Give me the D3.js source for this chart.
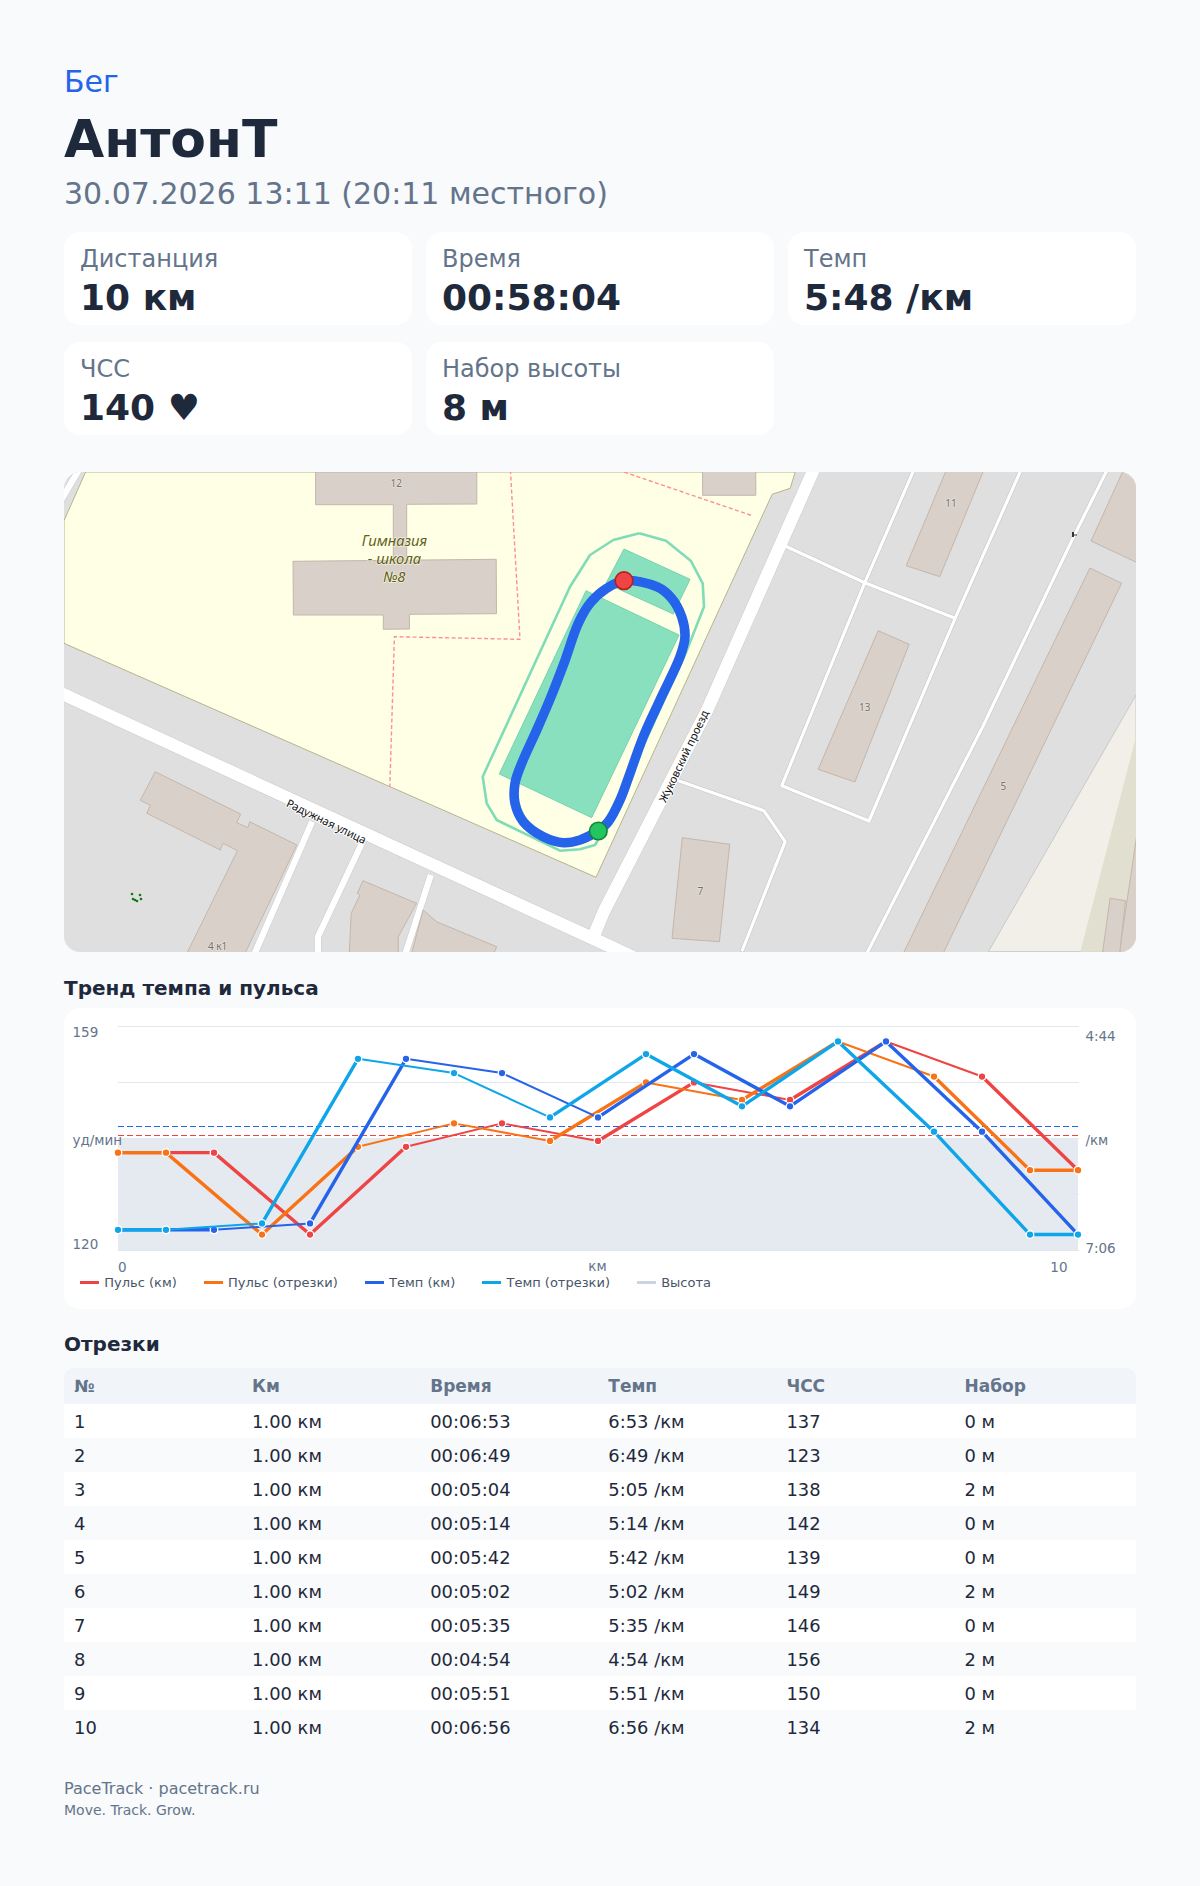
<!DOCTYPE html>
<html lang="ru">
<head>
<meta charset="utf-8">
<title>АнтонТ - Бег</title>
<script src="https://cdn.jsdelivr.net/npm/d3@7"></script>
<style>
  html, body { margin: 0; padding: 0; background: #f8fafc; }
  body { font-family: "DejaVu Sans", sans-serif; color: #1e293b; }
  #page { position: relative; width: 1200px; height: 1886px; overflow: hidden; }
  .abs { position: absolute; white-space: nowrap; line-height: 1; }
  .card { position: absolute; background: #fff; border-radius: 16px; width: 348px; height: 93px; }
  #map { position: absolute; left: 64px; top: 472px; border-radius: 16px; }
  #chart { position: absolute; left: 64px; top: 1008px; background: #fff; border-radius: 16px; }
  #legend { position: absolute; left: 80px; top: 1274.5px; display: flex; gap: 26.9px; font-size: 13px; color: #475569; line-height: 15px; }
  #legend .item { display: flex; align-items: center; }
  #legend .swatch { width: 19px; height: 3px; margin-right: 5.3px; }
  #segments { position: absolute; left: 64px; top: 1368px; width: 1072px; }
  .row { position: absolute; left: 0; width: 1072px; height: 34px; }
  .cell { position: absolute; font-size: 17.9px; white-space: nowrap; line-height: 1; }
  .head { font-size: 17px; font-weight: 700; color: #64748b; }
</style>
</head>
<body>
<div id="page"></div>
<script>
// ---- header + summary
const sport = "Бег", athlete = "АнтонТ", started = "30.07.2026 13:11 (20:11 местного)";
const statLabels = ["Дистанция", "Время", "Темп", "ЧСС", "Набор высоты"];
const statValues = ["10 км", "00:58:04", "5:48 /км", "140 ♥", "8 м"];

// ---- chart data
const kmX = [0, 1, 2, 3, 4, 5, 6, 7, 8, 9, 10];
const lapX = [0, 0.5, 1.5, 2.5, 3.5, 4.5, 5.5, 6.5, 7.5, 8.5, 9.5, 10];
const pulseKm = [137, 137, 123, 138, 142, 139, 149, 146, 156, 150, 134];
const pulseLap = [137, 137, 123, 138, 142, 139, 149, 146, 156, 150, 134, 134];
const paceKm = [413, 413, 409, 305, 314, 342, 302, 335, 294, 351, 416];
const paceLap = [413, 413, 409, 305, 314, 342, 302, 335, 294, 351, 416, 416];
const elevation = [8, 8, 8, 8, 8, 8, 8, 8, 8, 8, 8];
const avgPulse = 140, avgPace = 348;
const legendNames = ["Пульс (км)", "Пульс (отрезки)", "Темп (км)", "Темп (отрезки)", "Высота"];
const legendColors = ["#ef4444", "#f97316", "#2563eb", "#0ea5e9", "#cbd5e1"];

// ---- table
const tableHead = ["№", "Км", "Время", "Темп", "ЧСС", "Набор"];
const lapNo = ["1", "2", "3", "4", "5", "6", "7", "8", "9", "10"];
const lapDist = ["1.00 км", "1.00 км", "1.00 км", "1.00 км", "1.00 км", "1.00 км", "1.00 км", "1.00 км", "1.00 км", "1.00 км"];
const lapTime = ["00:06:53", "00:06:49", "00:05:04", "00:05:14", "00:05:42", "00:05:02", "00:05:35", "00:04:54", "00:05:51", "00:06:56"];
const lapPace = ["6:53 /км", "6:49 /км", "5:05 /км", "5:14 /км", "5:42 /км", "5:02 /км", "5:35 /км", "4:54 /км", "5:51 /км", "6:56 /км"];
const lapHr = ["137", "123", "138", "142", "139", "149", "146", "156", "150", "134"];
const lapGain = ["0 м", "0 м", "2 м", "0 м", "0 м", "2 м", "0 м", "2 м", "0 м", "2 м"];

// ---- map shapes
const schoolArea = [[64, 643.3], [596, 877.3], [772.2, 494.3], [790.2, 488.3], [795.2, 472], [85.6, 472], [64, 520.7]];
const sand = [[1136, 695], [988.4, 951.7], [1136, 951.7]];
const scrub = [[1136, 736.7], [1080.3, 951.7], [1136, 951.7]];
const buildings = [
  [[315.6, 472], [476.8, 472], [476.8, 504], [406.7, 504.3], [406.7, 562], [393.3, 562], [393.3, 504.7], [315.6, 504.7]],
  [[293, 561.3], [496.2, 559.3], [496.5, 613.7], [409.4, 614.3], [409.4, 629], [383.3, 629.3], [383.3, 615], [293.4, 615]],
  [[702.6, 470], [755.8, 470], [755.8, 495.3], [702.6, 495.3]],
  [[155.2, 771.7], [240.6, 814], [236.8, 822.7], [247.9, 827.7], [249.8, 821.7], [296.8, 845], [245.2, 953], [187, 953], [237.5, 850.7], [223, 843.3], [220.3, 850], [146.8, 813.3], [150.3, 805.3], [140.3, 800.3]],
  [[363, 880.7], [416.6, 903.3], [398.3, 936.7], [398.3, 953], [349.3, 953], [351.2, 913.3], [360, 895], [357.3, 893.3]],
  [[423.1, 910], [436.5, 921.7], [496.6, 946.7], [494, 953], [411.7, 953]],
  [[946.3, 470], [983.8, 470], [939.8, 576.7], [906.2, 565.7]],
  [[878.2, 630.7], [909.2, 644.3], [854.9, 782], [818.1, 769.3]],
  [[1089.9, 568], [1121.6, 583.3], [943.3, 953], [903.5, 953]],
  [[682.3, 837.7], [729.7, 844.3], [719.4, 941.7], [672, 938.3]],
  [[1123.5, 470], [1091, 541], [1138, 563], [1138, 470]],
  [[1138, 826.7], [1119.3, 953], [1138, 953]],
  [[1110.1, 898.3], [1125.5, 900.7], [1119.7, 953], [1102.5, 953]]
];
const bigRoads = [
  [[60, 692.8], [604.9, 944], [650, 965]],
  [[814, 469], [707.2, 710], [659.3, 803.3], [603.8, 911.7], [592, 940]]
];
const sideRoads = [
  [[312.1, 821.7], [254, 955]],
  [[361.9, 843.3], [317.9, 936.7], [317.9, 955]],
  [[430.8, 875], [405, 955]],
  [[60, 502], [80, 468]]
];
const lanes = [
  [[913.8, 470], [864.8, 582.7], [781.8, 785.7], [869, 821], [955.1, 618.3], [1021, 470]],
  [[786.8, 546.7], [864.8, 582.7], [955.1, 618.3]],
  [[678.5, 780.7], [763.8, 810.7], [785.2, 841.7], [742.4, 950]],
  [[1107.1, 470], [1074.5, 535], [982.7, 726.7], [866, 955]]
];
const pitches = [
  [[586, 590.7], [679, 635], [591.7, 817.7], [499.3, 774]],
  [[624, 549], [690, 579.3], [673.3, 614], [606, 583.3]]
];
const stadiumEdge = [[639.3, 533.3], [666, 540.7], [690.7, 560.7], [702.7, 583.3], [704, 606.7], [685.7, 653.3], [606.7, 825], [595, 845], [580, 849.3], [560, 850.7], [496.7, 820], [486.7, 803.3], [482.7, 776.7], [570, 586.7], [590, 555], [613.3, 540], [639.3, 533.3]];
const fences = [
  [[510.4, 470], [520, 639.3], [394.4, 636.7], [389.8, 786.7]],
  [[618, 470], [753.1, 516]]
];
const route = [[598.3, 831], [580, 840], [563.3, 842.7], [543.3, 836.7], [523.3, 821.7], [515, 803.3], [515, 783.3], [521.7, 763.3], [536.7, 730], [551, 696.7], [564, 663.3], [578.3, 623.3], [590, 603.3], [606.7, 588.3], [624, 580.7], [656.7, 586.7], [671.7, 598.3], [681.7, 616.7], [685, 636.7], [680, 656.7], [660, 700], [643.3, 736.7], [630, 773.3], [620, 800], [608.3, 821.7], [598.3, 831]];
const routeStart = [598.3, 831], routeEnd = [624, 580.7];
const houseNumbers = [["12", 396.3, 487], ["11", 951, 507], ["13", 864.8, 711], ["5", 1003.4, 790], ["7", 700.3, 895], ["4 к1", 217.6, 950]];
const schoolName = [["Гимназия", 394.4, 546], ["- школа", 394.4, 564], ["№8", 394.4, 582]];
const streetNames = [["Радужная улица", 324.6, 825, 26], ["Жуковский проезд", 687.4, 758, -64.5]];
const playground = [[132, 894], [135, 900], [140, 895], [137, 901], [133, 899], [141, 899]];

const page = d3.select("#page");

function put(str, px, baseline, size, color, weight) {
  // line-height 1, so drop the box from the baseline by about the ascent
  return page.append("div").attr("class", "abs")
    .style("left", px + "px").style("top", (baseline - size * 0.88) + "px")
    .style("font-size", size + "px").style("color", color)
    .style("font-weight", weight || 400).text(str);
}

put(sport, 64, 93.2, 30, "#2563eb");
put(athlete, 64, 159, 52, "#1e293b", 700);
put(started, 64, 205, 30, "#64748b");

// ---- stat cards
const cardY = [232, 342];
statLabels.forEach((label, i) => {
  const cx = 64 + (i % 3) * 362, cy = cardY[Math.floor(i / 3)];
  page.append("div").attr("class", "card").style("left", cx + "px").style("top", cy + "px");
  put(label, cx + 16, cy + 36.4, 24, "#64748b");
  put(statValues[i], cx + 16, cy + 79.5, 36, "#1e293b", 700);
});

// ---- map
const mapW = 1072, mapH = 480;
const mapX = d3.scaleLinear().domain([64, 1136]).range([0, mapW]);
const mapY = d3.scaleLinear().domain([472, 952]).range([0, mapH]);
const mapLine = d3.line().x(d => mapX(d[0])).y(d => mapY(d[1]));
const map = page.append("svg").attr("id", "map").attr("width", mapW).attr("height", mapH)
  .style("overflow", "hidden");
map.append("rect").attr("width", mapW).attr("height", mapH).attr("fill", "#dfdfdf");

function polys(data, fill, stroke, sw) {
  map.append("g").selectAll("path").data(data).enter().append("path")
    .attr("d", d => mapLine(d) + "Z")
    .attr("fill", fill).attr("stroke", stroke || "none").attr("stroke-width", sw || 0);
}
function lines(data, color, sw, dash, cap) {
  map.append("g").selectAll("path").data(data).enter().append("path")
    .attr("d", mapLine).attr("fill", "none").attr("stroke", color).attr("stroke-width", sw)
    .attr("stroke-dasharray", dash || null).attr("stroke-linecap", cap || "butt")
    .attr("stroke-linejoin", "round");
}

polys([sand], "#f2efe9", "#c9c9c9", 1);
polys([scrub], "#e0dfd0");
polys([schoolArea], "#ffffe5", "#b5b58c", 1);
lines(bigRoads, "#cfcfcf", 13.6);
lines(sideRoads, "#cfcfcf", 7.4);
lines(lanes, "#c8c8c8", 4.4, null, "round");
lines(bigRoads, "#ffffff", 12.4);
lines(sideRoads, "#ffffff", 6.2);
lines(lanes, "#ffffff", 3.2, null, "round");
polys(buildings, "#d9d0c9", "#c4b6ab", 1);
lines(fences, "#ff8f8f", 1.4, "4 2.5");
polys(pitches, "#88e0be", "#76d3ae", 1);
lines([stadiumEdge], "#7fdcb7", 2.6);

// labels on the map
const mapFont = '"Noto Sans", "DejaVu Sans", sans-serif';
function halo(sel) {
  return sel.attr("font-family", mapFont).attr("text-anchor", "middle")
    .attr("paint-order", "stroke").attr("stroke-linejoin", "round");
}
halo(map.append("g").selectAll("text").data(houseNumbers).enter().append("text")
  .attr("x", d => mapX(d[1])).attr("y", d => mapY(d[2])).text(d => d[0]))
  .attr("font-size", 10).attr("fill", "#77706a").attr("stroke", "#e6e1dc").attr("stroke-width", 1.5);
halo(map.append("g").selectAll("text").data(schoolName).enter().append("text")
  .attr("x", d => mapX(d[1])).attr("y", d => mapY(d[2])).text(d => d[0]))
  .attr("font-size", 14.8).attr("font-style", "italic").attr("fill", "#5f5f1e")
  .attr("stroke", "#ffffe5").attr("stroke-opacity", 0.7).attr("stroke-width", 1.5);
halo(map.append("g").selectAll("text").data(streetNames).enter().append("text")
  .attr("transform", d => `translate(${mapX(d[1])},${mapY(d[2])}) rotate(${d[3]})`).text(d => d[0]))
  .attr("font-size", 11.1).attr("fill", "#111").attr("stroke", "#fff").attr("stroke-width", 2);
map.append("g").selectAll("circle").data(playground).enter().append("circle")
  .attr("cx", d => mapX(d[0])).attr("cy", d => mapY(d[1])).attr("r", 1.3).attr("fill", "#0f7a0f");
map.append("path").attr("d", mapLine([[1072, 532], [1072, 537], [1074, 537], [1074, 535.5], [1077, 535.5], [1077, 534.5], [1074, 534.5], [1074, 532]]) + "Z").attr("fill", "#333");

// gps track and the start/end markers
map.append("path").attr("d", d3.line().x(d => mapX(d[0])).y(d => mapY(d[1])).curve(d3.curveCatmullRom.alpha(0.5))(route))
  .attr("fill", "none").attr("stroke", "#2563eb").attr("stroke-width", 9.6).attr("stroke-linejoin", "round");
map.append("circle").attr("cx", mapX(routeStart[0])).attr("cy", mapY(routeStart[1])).attr("r", 8.8)
  .attr("fill", "#22c55e").attr("stroke", "#15803d").attr("stroke-width", 1.6);
map.append("circle").attr("cx", mapX(routeEnd[0])).attr("cy", mapY(routeEnd[1])).attr("r", 8.8)
  .attr("fill", "#ef4444").attr("stroke", "#b91c1c").attr("stroke-width", 1.6);

// ---- trend chart
put("Тренд темпа и пульса", 64, 996, 20, "#1e293b", 700);

const chartW = 1072, chartH = 301;
const margin = { top: 18, right: 58, bottom: 59, left: 54 };
const svg = page.append("svg").attr("id", "chart").attr("width", chartW).attr("height", chartH);
const plotW = chartW - margin.left - margin.right, plotH = chartH - margin.top - margin.bottom;
const plot = svg.append("g").attr("transform", `translate(${margin.left},${margin.top})`);

const pad = 0.08;
const x = d3.scaleLinear().domain([0, 10]).range([0, plotW]);
const pulseSpan = d3.max(pulseKm) - d3.min(pulseKm), paceSpan = d3.max(paceKm) - d3.min(paceKm);
const yPulse = d3.scaleLinear().domain([d3.min(pulseKm) - pulseSpan * pad, d3.max(pulseKm) + pulseSpan * pad]).range([plotH, 0]);
const yPace = d3.scaleLinear().domain([d3.max(paceKm) + paceSpan * pad, d3.min(paceKm) - paceSpan * pad]).range([plotH, 0]);
const yElev = d3.scaleLinear().domain([0, 16]).range([plotH, 0]);

// elevation goes under everything, grid is drawn over it
plot.append("path").datum(elevation)
  .attr("d", d3.area().x((d, i) => x(kmX[i])).y0(plotH).y1(d => yElev(d)))
  .attr("fill", "#cbd5e1").attr("fill-opacity", 0.5);

plot.append("g").selectAll("line").data(d3.range(5)).enter().append("line")
  .attr("x1", 0).attr("x2", plotW + 1)
  .attr("y1", d => plotH * d / 4 + 0.5).attr("y2", d => plotH * d / 4 + 0.5)
  .attr("stroke", "#e2e8f0").attr("stroke-width", 1);

const avgLines = [[yPace(avgPace), "#2563eb"], [yPulse(avgPulse), "#ef4444"]];
plot.append("g").selectAll("line").data(avgLines).enter().append("line")
  .attr("x1", 0).attr("x2", plotW)
  .attr("y1", d => Math.floor(d[0]) + 0.5).attr("y2", d => Math.floor(d[0]) + 0.5)
  .attr("stroke", d => d[1]).attr("stroke-width", 1).attr("stroke-dasharray", "6 3");

// flat and steep runs come out heavier than shallow ones in the reference
const segWidth = d3.scaleThreshold().domain([1, 50]).range([3.4, 2, 3.4]);

function series(xs, ys, yScale, color) {
  const pts = xs.map((d, i) => [x(d), yScale(ys[i])]);
  const g = plot.append("g");
  g.selectAll("line").data(d3.pairs(pts)).enter().append("line")
    .attr("x1", d => d[0][0]).attr("y1", d => d[0][1])
    .attr("x2", d => d[1][0]).attr("y2", d => d[1][1])
    .attr("stroke", color).attr("stroke-linecap", "round")
    .attr("stroke-width", d => segWidth(Math.abs(d[1][1] - d[0][1])));
  g.selectAll("circle").data(pts).enter().append("circle")
    .attr("cx", d => d[0]).attr("cy", d => d[1]).attr("r", 3.8)
    .attr("fill", color).attr("stroke", "#fff").attr("stroke-width", 1.3);
}
series(kmX, pulseKm, yPulse, legendColors[0]);
series(lapX, pulseLap, yPulse, legendColors[1]);
series(kmX, paceKm, yPace, legendColors[2]);
series(lapX, paceLap, yPace, legendColors[3]);

// x axis: only the ends are labelled, "км" sits in the middle
const xAxis = svg.append("g").attr("transform", `translate(${margin.left},${margin.top + plotH})`)
  .call(d3.axisBottom(x).tickValues([0, 10]).tickSize(0).tickPadding(12));
xAxis.select(".domain").remove();
xAxis.selectAll("text").attr("font-family", "DejaVu Sans").attr("font-size", 13.5).attr("fill", "#64748b")
  .attr("text-anchor", d => d === 0 ? "start" : "end").attr("dx", d => d === 0 ? -0.5 : -11);

function axisText(str, px, py, anchor) {
  svg.append("text").attr("x", px).attr("y", py).attr("text-anchor", anchor || "start")
    .attr("font-size", 13.5).attr("fill", "#64748b").attr("font-family", "DejaVu Sans").text(str);
}
const fmtPace = s => Math.floor(s / 60) + ":" + d3.format("02d")(Math.round(s % 60));
axisText(Math.round(yPulse.domain()[1]), 8.5, margin.top + 10.7);
axisText("уд/мин", 8.5, 137);
axisText(Math.round(yPulse.domain()[0]), 8.5, margin.top + plotH - 1.5);
axisText(fmtPace(yPace.domain()[1]), 1021.4, margin.top + 15);
axisText("/км", 1021.4, 137);
axisText(fmtPace(yPace.domain()[0]), 1021.4, margin.top + plotH + 3);
axisText("км", margin.left + plotW / 2 - 0.5, 263, "middle");

const legend = page.append("div").attr("id", "legend");
const item = legend.selectAll("div").data(legendNames).enter().append("div").attr("class", "item");
item.append("span").attr("class", "swatch").style("background", (d, i) => legendColors[i]);
item.append("span").text(d => d);

// ---- laps table
put("Отрезки", 64, 1351.7, 20, "#1e293b", 700);

const tableRows = lapNo.map((d, i) => [d, lapDist[i], lapTime[i], lapPace[i], lapHr[i], lapGain[i]]);
const table = page.append("div").attr("id", "segments");
const colX = d3.scaleLinear().domain([0, 6]).range([10, 1078.6]);
table.append("div").attr("class", "row")
  .style("top", "0px").style("height", "36px").style("background", "#f1f5f9")
  .style("border-radius", "10px 10px 0 0")
  .selectAll("div").data(tableHead).enter().append("div").attr("class", "cell head")
  .style("left", (d, i) => colX(i) + "px").style("top", "10px").text(d => d);
table.selectAll("div.body").data(tableRows).enter().append("div").attr("class", "row body")
  .style("top", (d, i) => 36 + i * 34 + "px")
  .style("background", (d, i) => i % 2 ? "#f8fafc" : "#ffffff")
  .selectAll("div").data(d => d).enter().append("div").attr("class", "cell")
  .style("left", (d, i) => colX(i) + "px").style("top", "8.5px").text(d => d);

// ---- footer
put("PaceTrack · pacetrack.ru", 64, 1795.4, 16, "#64748b");
put("Move. Track. Grow.", 64, 1815.4, 14, "#64748b");
</script>
</body>
</html>
